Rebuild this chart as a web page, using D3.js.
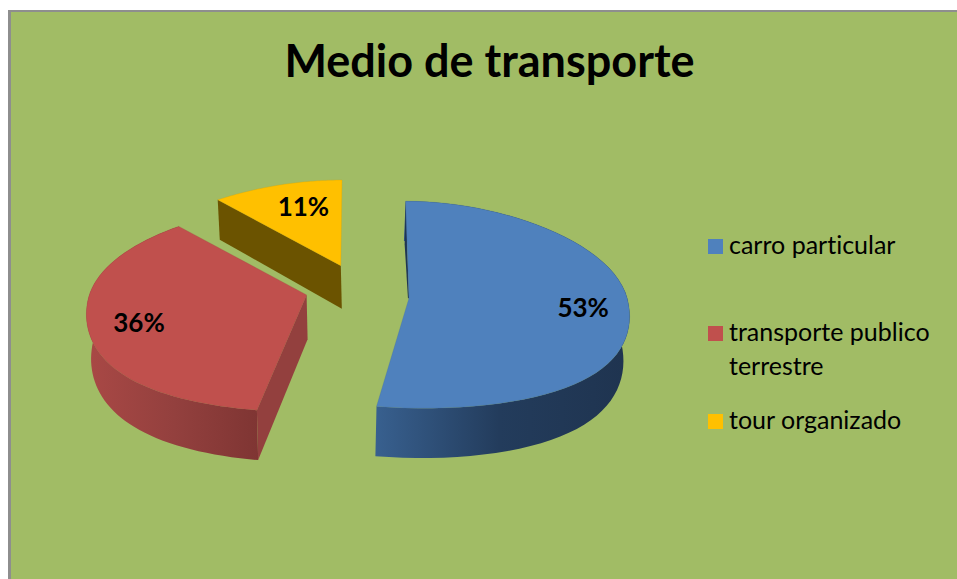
<!DOCTYPE html>
<html><head><meta charset="utf-8">
<style>html,body{margin:0;padding:0;background:#fff}svg{display:block}text{font-family:Lato,"Open Sans",sans-serif;fill:#000;font-variant-ligatures:none}</style>
<script src="https://cdn.jsdelivr.net/npm/d3@7"></script></head><body><svg id="c" width="957" height="579"></svg>
<script>
const categories = ["carro particular", "transporte publico terrestre", "tour organizado"];
const values = [53, 36, 11];
const labels = ["53%", "36%", "11%"];
const titleText = "Medio de transporte";
const legendLines = [["carro particular"], ["transporte publico", "terrestre"], ["tour organizado"]];
const topColors = ["#4F81BD", "#C0504D", "#FFC000"];
const wallColors = [["#38608F", "#233C5C", "#1F3450"], ["#A84845", "#93403E", "#7F3533"], ["#6B5300", "#6B5300", "#6B5300"]];
const cutColors = [null, "#93403E", "#6B5300"];

// projection of the exploded pie (layout only)
const explode = 0.236, R = 220, vx = 320, Cx = 357, Y0 = 305, B = 101, K = 0.143;
const apexLift = [9, 16, 13], apexDx = [0, 0, 2], labelFrac = [0.79, 0.755, 0.78], labelDx = [0, -5, 17], labelDy = [-7, -7, 4];
const rimLean = [8, 4.5, 4.5];
const TAU = Math.PI * 2;
const svg = d3.select("#c");

// (ox, oz) = slice offset from the pie centre, (u, v) = point inside the slice
const proj = (ox, oz, u, v, lean = 0) => {
  const z = oz + v;
  const w = 1 / (1 + K * z);
  const w2 = 1 - Math.sign(z) * 0.14 * z * z;
  const bump = z > 0 ? 16 * z * Math.max(0, 1.3 - z) : 0;
  const shift = z > 0 ? lean * z * (1 - Math.abs(u)) : 0;
  return { x: vx + (Cx - vx + R * ox) * w + R * u * w2 + shift, y: Y0 - B * z - bump, w };
};
const lower = p => {
  const d = 10 + 34 * p.w;
  return { x: vx + (p.x - vx) * 0.98, y: p.y + d };
};
const line = d3.line().x(d => d.x).y(d => d.y);
const arcs = d3.pie().sort(null).startAngle(0).endAngle(TAU)(values);

const defs = svg.append("defs");
const bg = svg.append("g");
bg.append("rect").attr("x", 8).attr("y", 10).attr("width", 949).attr("height", 569).attr("fill", "#8E8E8E");
bg.append("rect").attr("x", 11).attr("y", 12).attr("width", 946).attr("height", 567).attr("fill", "#A1BC65");

svg.append("text").attr("x", 489.5).attr("y", 77).attr("text-anchor", "middle")
  .attr("font-size", 45).attr("font-weight", 700).text(titleText);

// draw back to front
[2, 1, 0].forEach(i => {
  const a = arcs[i];
  const mid = (a.startAngle + a.endAngle) / 2;
  const cx = explode * Math.sin(mid), cz = explode * Math.cos(mid);
  const rim = t => proj(cx, cz, Math.sin(t), Math.cos(t), rimLean[i]);
  const steps = d3.range(0, 61).map(k => a.startAngle + (a.endAngle - a.startAngle) * k / 60);
  const pts = steps.map(rim);
  const c0 = proj(cx, cz, 0, 0);
  const apex = { x: c0.x + apexDx[i], y: c0.y - apexLift[i], w: c0.w };
  const apexLow = { x: apex.x + 1, y: apex.y + 10 + 34 * apex.w };
  const g = svg.append("g");

  // the back slice shows no outer wall
  if (i !== 2) {
    const lows = pts.map(lower);
    const gid = "wall" + i;
    const xr = d3.extent(lows, d => d.x);
    const visX = i === 1 ? [xr[0], lower(rim(a.startAngle)).x] : [lower(rim(a.endAngle)).x, xr[1]];
    const grad = defs.append("linearGradient").attr("id", gid).attr("gradientUnits", "userSpaceOnUse")
      .attr("x1", visX[0]).attr("x2", visX[1]).attr("y1", 0).attr("y2", 0);
    wallColors[i].forEach((col, k) => grad.append("stop").attr("offset", k / 2).attr("stop-color", col));
    g.append("path").attr("d", line(pts.concat(lows.slice().reverse())) + "Z").attr("fill", `url(#${gid})`);
  }

  const e = rim(a.startAngle);
  if (i === 1 || i === 2) {
    g.append("path").attr("d", line([e, apex, apexLow, lower(e)]) + "Z").attr("fill", cutColors[i]);
  } else {
    g.append("path").attr("d", line([e, { x: e.x - 1, y: e.y + 43 }, { x: apex.x - 1, y: apex.y }, apex]) + "Z").attr("fill", "#1F3554");
  }
  g.append("path").attr("d", line([apex].concat(pts)) + "Z").attr("fill", topColors[i])
    .attr("stroke", d3.color(topColors[i]).darker(0.5)).attr("stroke-opacity", 0.35).attr("stroke-width", 0.8);
});

// data labels
arcs.forEach((a, i) => {
  const mid = (a.startAngle + a.endAngle) / 2;
  const f = labelFrac[i];
  const p = proj(explode * Math.sin(mid), explode * Math.cos(mid), f * Math.sin(mid), f * Math.cos(mid));
  svg.append("text").attr("x", p.x + labelDx[i]).attr("y", p.y + labelDy[i]).attr("dy", "0.35em")
    .attr("text-anchor", "middle").attr("font-size", 26).attr("font-weight", 700).text(labels[i]);
});

// legend
const legendY = [239, 326, 414];
const lg = svg.append("g");
categories.forEach((c, i) => {
  lg.append("rect").attr("x", 708).attr("y", legendY[i]).attr("width", 15).attr("height", 15).attr("fill", topColors[i]);
  legendLines[i].forEach((t, k) => {
    lg.append("text").attr("x", 729).attr("y", legendY[i] + 15 + k * 33.5).attr("font-size", 25).text(t);
  });
});
</script></body></html>
